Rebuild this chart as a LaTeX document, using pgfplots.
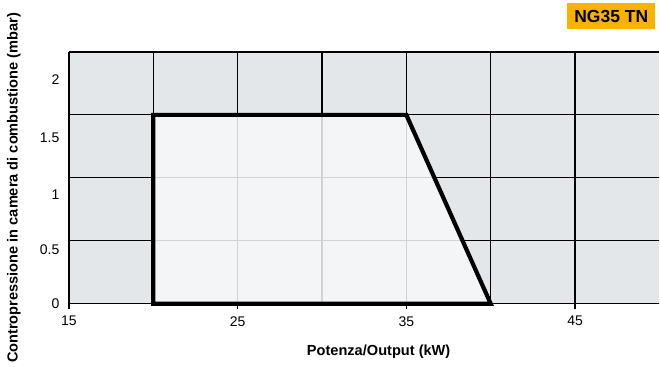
\documentclass[border=0pt]{standalone}
\usepackage{pgfplots}
\pgfplotsset{compat=1.18}
\usepackage{fontspec}
\setmainfont{Liberation Sans}
\definecolor{bgout}{HTML}{E4E7EA}
\definecolor{bgin}{HTML}{F4F5F7}
\definecolor{gridin}{HTML}{D2D2D2}
\definecolor{tagorange}{HTML}{F9B200}
\begin{document}
\begin{tikzpicture}
\begin{axis}[name=ax, at={(0,0)}, anchor=south west,
  scale only axis, width=591pt, height=252pt,
  xmin=15, xmax=50, ymin=0, ymax=2,
  axis x line=bottom, axis y line=left,
  axis line style={black, line width=1.2pt, -},
  axis background/.style={fill=bgout},
  clip=false,
  xtick={15,25,35,45}, minor xtick={20,30,40},
  ytick={0,0.5,1,1.5,2}, yticklabels={},
  grid=both,
  major grid style={black, line width=1.2pt},
  minor grid style={black, line width=1.2pt},
  tick align=outside, major tick length=5pt, minor tick length=0pt,
  xtick style={black, line width=1.2pt},
  ytick style={draw=none},
  extra y ticks={0,0.43,0.865,1.317,1.778},
  extra y tick labels={0,0.5,1,1.5,2},
  extra y tick style={grid=none, major tick length=0pt},
  /pgf/number format/assume math mode=true,
  ticklabel style={font=\fontsize{14}{16}\selectfont},
  yticklabel style={xshift=-6pt},
  xticklabel style={yshift=-4pt},
  xlabel={Potenza/Output (kW)},
  xlabel style={at={(axis description cs:0.5245,0)}, anchor=center, yshift=-48pt, font=\bfseries\fontsize{14.6}{16}\selectfont},
  ylabel={Contropressione in camera di combustione (mbar)},
  ylabel style={at={(axis description cs:-0.0931,0.46)}, anchor=center, font=\bfseries\fontsize{14.6}{16}\selectfont},
]
\addplot[fill=bgin, draw=none] coordinates {(20,0) (20,1.5) (35,1.5) (40,0)} -- cycle;
\begin{scope}
\clip (axis cs:20,0) -- (axis cs:20,1.5) -- (axis cs:35,1.5) -- (axis cs:40,0) -- cycle;
\draw[gridin, line width=1.2pt] (axis cs:25,0) -- (axis cs:25,2);
\draw[gridin, line width=1.2pt] (axis cs:30,0) -- (axis cs:30,2);
\draw[gridin, line width=1.2pt] (axis cs:35,0) -- (axis cs:35,2);
\draw[gridin, line width=1.2pt] (axis cs:15,0.5) -- (axis cs:50,0.5);
\draw[gridin, line width=1.2pt] (axis cs:15,1) -- (axis cs:50,1);
\end{scope}
\addplot[black, line width=4.2pt, line join=miter, mark=none] coordinates {(20,0) (20,1.5) (35,1.5) (40,0)} -- cycle;
\end{axis}
\node[fill=tagorange, anchor=north east, minimum width=88pt, minimum height=26pt, inner sep=0pt, font=\bfseries\fontsize{17.5}{20}\selectfont] at ([xshift=-4pt,yshift=49pt]ax.north east) {NG35 TN};
\path[use as bounding box] ([xshift=-69pt,yshift=-63pt]ax.south west) rectangle ([yshift=52pt]ax.north east);
\end{tikzpicture}
\end{document}
